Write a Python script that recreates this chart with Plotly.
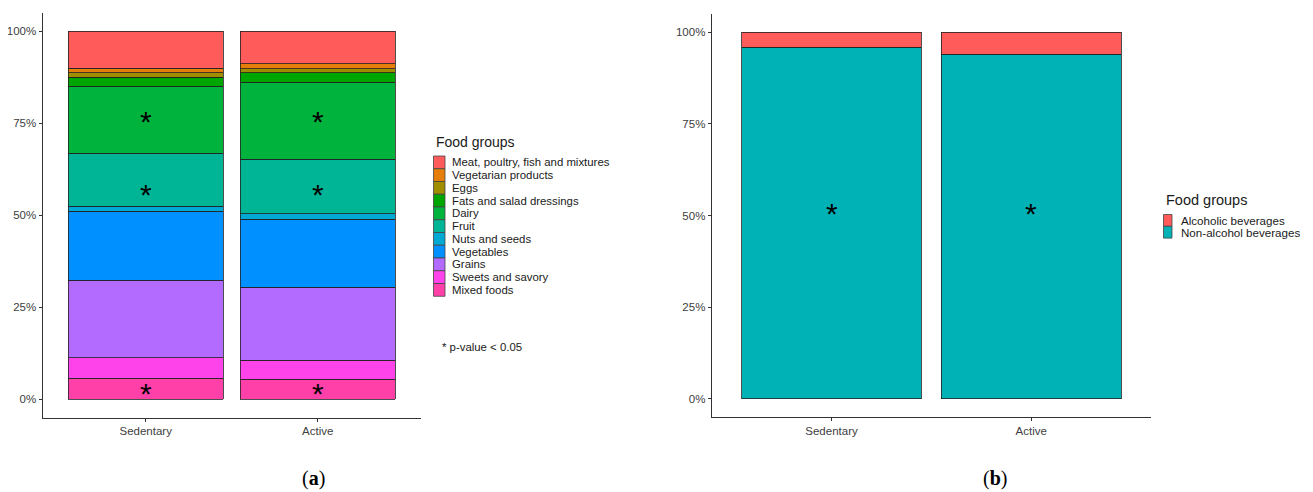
import plotly.graph_objects as go

# ---------------- data ----------------
groups = ["Sedentary", "Active"]

# Panel (a): food groups, legend order (top of stack first)
food_groups = [
    "Meat, poultry, fish and mixtures",
    "Vegetarian products",
    "Eggs",
    "Fats and salad dressings",
    "Dairy",
    "Fruit",
    "Nuts and seeds",
    "Vegetables",
    "Grains",
    "Sweets and savory",
    "Mixed foods",
]
sedentary_pct = [10.1, 1.2, 1.2, 2.5, 18.2, 14.4, 1.4, 18.7, 21.1, 5.6, 5.6]
active_pct = [8.9, 1.3, 1.2, 2.5, 21.0, 14.7, 1.6, 18.4, 19.9, 5.15, 5.35]
food_colors = ["#FF5B5B", "#E67E0A", "#A08E00", "#00A600", "#00B33C",
               "#00B496", "#00A9D4", "#0090FF", "#B36BFF", "#FF43EA", "#FF40A8"]

# significance markers panel (a)
star_a_groups = ["Sedentary", "Sedentary", "Sedentary", "Active", "Active", "Active"]
star_a_y = [75, 55, 1, 75, 55, 1]

# Panel (b): beverages
bev_groups = ["Alcoholic beverages", "Non-alcohol beverages"]
bev_sedentary = [4.1, 95.9]
bev_active = [6.0, 94.0]
bev_colors = ["#FF5B5B", "#00B2B6"]
star_b_groups = ["Sedentary", "Active"]
star_b_y = [50, 50]

y_ticks = [0, 25, 50, 75, 100]
y_tick_labels = ["0%", "25%", "50%", "75%", "100%"]

# ---------------- layout helpers ----------------
OFF = 8  # page body margin
W, H = 1313 - OFF, 492 - OFF


def px(x):
    return (x - OFF) / W


def py(y):
    return 1 - (y - OFF) / H


EDGE = "#222222"
AXIS = "#333333"
TXT = "#404040"
FONT = "Liberation Sans, Arial, sans-serif"

fig = go.Figure()

# panel (a) stacked bars, bottom category first
for name, s, a, c in reversed(list(zip(food_groups, sedentary_pct, active_pct, food_colors))):
    fig.add_trace(go.Bar(
        x=groups, y=[s, a], name=name, marker=dict(color=c, line=dict(color=EDGE, width=0.8)),
        width=0.9, xaxis="x", yaxis="y", showlegend=False,
    ))

# panel (b) stacked bars
for name, s, a, c in reversed(list(zip(bev_groups, bev_sedentary, bev_active, bev_colors))):
    fig.add_trace(go.Bar(
        x=groups, y=[s, a], name=name, marker=dict(color=c, line=dict(color=EDGE, width=0.8)),
        width=0.9, xaxis="x2", yaxis="y2", showlegend=False,
    ))

axis_common = dict(
    showline=True, linecolor=AXIS, linewidth=1, ticks="outside", ticklen=3,
    tickcolor=AXIS, tickwidth=1, showgrid=False, zeroline=False,
    tickfont=dict(family=FONT, size=11.5, color=TXT), mirror=False,
)

fig.update_layout(
    width=W, height=H, margin=dict(l=0, r=0, t=0, b=0),
    paper_bgcolor="white", plot_bgcolor="white", barmode="stack", bargap=0.1,
    xaxis=dict(domain=[px(42.5), px(421)], range=[-0.6, 1.6], anchor="y",
               categoryorder="array", categoryarray=groups, **axis_common),
    yaxis=dict(domain=[py(417.5), py(12.6)], range=[-5, 105], anchor="x",
               tickvals=y_ticks, ticktext=y_tick_labels, **axis_common),
    xaxis2=dict(domain=[px(711.7), px(1151)], range=[-0.6, 1.6], anchor="y2",
                categoryorder="array", categoryarray=groups, **axis_common),
    yaxis2=dict(domain=[py(417), py(14)], range=[-5, 105], anchor="x2",
                tickvals=y_ticks, ticktext=y_tick_labels, **axis_common),
    showlegend=False,
)

annotations = []
shapes = []

# significance stars
for g, yv in zip(star_a_groups, star_a_y):
    annotations.append(dict(x=g, y=yv, xref="x", yref="y", text="*", showarrow=False,
                            font=dict(family=FONT, size=30, color="black"),
                            xanchor="center", yanchor="middle", yshift=2))
for g, yv in zip(star_b_groups, star_b_y):
    annotations.append(dict(x=g, y=yv, xref="x2", yref="y2", text="*", showarrow=False,
                            font=dict(family=FONT, size=30, color="black"),
                            xanchor="center", yanchor="middle", yshift=2))


def add_legend(title, names, colors, x0, title_y, key_top, key_w, key_h, text_x,
               title_size, text_size):
    annotations.append(dict(x=px(x0), y=py(title_y), xref="paper", yref="paper",
                            text=title, showarrow=False, xanchor="left", yanchor="middle",
                            font=dict(family=FONT, size=title_size, color="#1A1A1A")))
    for i, (n, c) in enumerate(zip(names, colors)):
        top = key_top + i * key_h
        shapes.append(dict(type="rect", xref="paper", yref="paper",
                           x0=px(x0), x1=px(x0 + key_w), y0=py(top + key_h), y1=py(top),
                           fillcolor=c, line=dict(color="#444444", width=0.8)))
        annotations.append(dict(x=px(text_x), y=py(top + key_h / 2), xref="paper", yref="paper",
                                text=n, showarrow=False, xanchor="left", yanchor="middle",
                                font=dict(family=FONT, size=text_size, color="#1A1A1A")))


add_legend("Food groups", food_groups, food_colors, 433.5, 142, 156, 11.5, 12.75, 450,
           14, 11.4)
add_legend("Food groups", bev_groups, bev_colors, 1163.5, 200, 214.5, 8.5, 11.8, 1179,
           14.5, 11.6)

# p-value note
annotations.append(dict(x=px(440), y=py(347), xref="paper", yref="paper",
                        text="* p-value < 0.05", showarrow=False, xanchor="left",
                        yanchor="middle", font=dict(family=FONT, size=11.4, color="#1A1A1A")))

# panel labels
for lab, cx in [("a", 313), ("b", 995)]:
    annotations.append(dict(x=px(cx), y=py(478), xref="paper", yref="paper",
                            text="(<b>%s</b>)" % lab, showarrow=False, xanchor="center",
                            yanchor="middle",
                            font=dict(family="Liberation Serif, serif", size=20, color="black")))

fig.update_layout(annotations=annotations, shapes=shapes)
fig.write_html("out.html")
